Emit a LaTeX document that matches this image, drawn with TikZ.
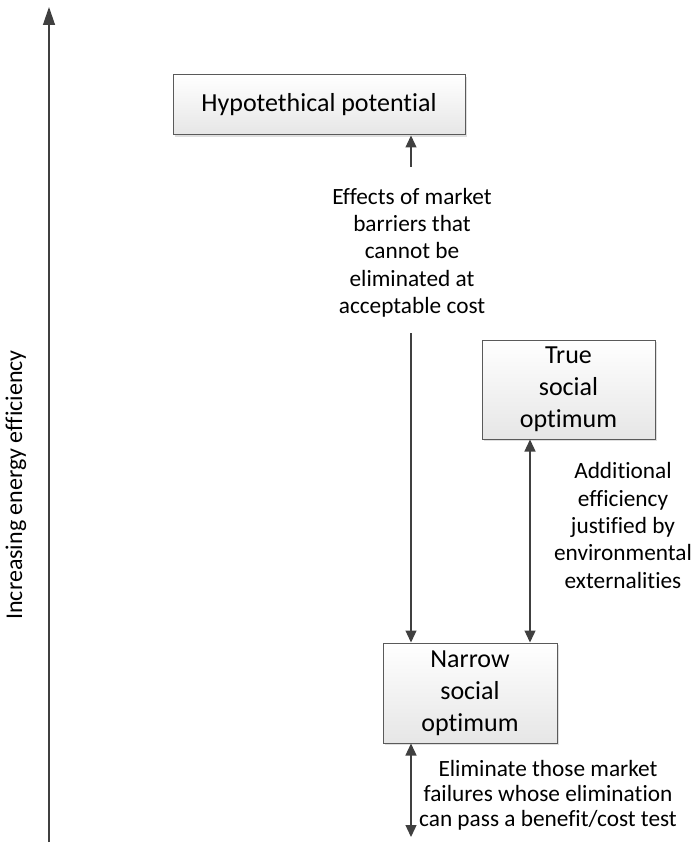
\documentclass[tikz,border=0pt]{standalone}
\usepackage{fontspec}
\setmainfont{Carlito}[Ligatures=NoCommon]
\usetikzlibrary{arrows.meta,shadows}
\definecolor{linec}{HTML}{404040}
\definecolor{boxedge}{HTML}{5A5A5A}
\definecolor{boxbot}{HTML}{E6E6E6}
\tikzset{
  box/.style={draw=boxedge, line width=1pt, top color=white, bottom color=boxbot,
    drop shadow={shadow xshift=2pt, shadow yshift=-2pt, opacity=0.25, fill=gray},
    align=center, inner sep=0pt, font=\fontsize{26}{32}\selectfont},
  lbl/.style={align=center, inner sep=0pt, font=\fontsize{23.3}{27.3}\selectfont},
  arr/.style={draw=linec, line width=1.3pt, -{Triangle[length=12pt,width=11pt]}},
  darr/.style={draw=linec, line width=1.3pt, {Triangle[length=12pt,width=11pt]}-{Triangle[length=12pt,width=11pt]}},
  axisarr/.style={draw=linec, line width=1.3pt, -{Triangle[length=18pt,width=12pt]}}
}
\begin{document}
\begin{tikzpicture}[x=1pt,y=-1pt]
\useasboundingbox (0,0) rectangle (693,845);
% boxes
\node[box, minimum width=292pt, minimum height=60pt] (hyp) at (319,105) {Hypotethical potential};
\node[box, minimum width=173pt, minimum height=99pt] (tru) at (568.5,389.5) {True\\social\\optimum};
\node[box, minimum width=174pt, minimum height=100pt] (nar) at (470,693) {Narrow\\social\\optimum};
% axis
\coordinate (axb) at (49,842);
\coordinate (axt) at (49,7);
\draw[axisarr] (axb) -- (axt);
\node[lbl, rotate=90, font=\fontsize{24}{28}\selectfont] (axl) at (16,485) {Increasing energy efficiency};
% labels
\node[lbl] (eff) at (412,252.5) {Effects of market\\barriers that\\cannot be\\eliminated at\\acceptable cost};
\node[lbl] (add) at (623,525.5) {Additional\\efficiency\\justified by\\environmental\\externalities};
\node[lbl, font=\fontsize{23.3}{25}\selectfont] (eli) at (548,795) {Eliminate those market\\failures whose elimination\\can pass a benefit/cost test};
% connectors
\coordinate (c1) at (411,167);
\coordinate (c2) at (411,333);
\coordinate (c3) at (411,837);
\draw[arr] (c1) -- (c1 |- hyp.south);
\draw[arr] (c2) -- (c2 |- nar.north);
\draw[darr] (530,0 |- tru.south) -- (530,0 |- nar.north);
\draw[darr] (c3 |- nar.south) -- (c3);
\end{tikzpicture}
\end{document}
